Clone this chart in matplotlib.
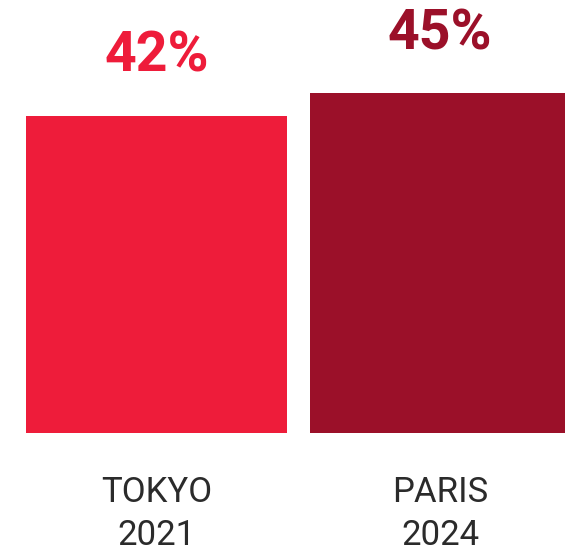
import matplotlib
matplotlib.use("Agg")
import matplotlib.pyplot as plt

# Données
villes = ["TOKYO", "PARIS"]
annees = ["2021", "2024"]
valeurs = [42, 45]
couleurs = ["#EE1C3A", "#9B1029"]

fig = plt.figure(figsize=(5.65, 5.47), dpi=100)
ax = fig.add_axes([0, 0, 1, 1])

x = list(range(len(valeurs)))
ax.bar(x, valeurs, width=0.92, color=couleurs)

# échelle : ~7.55 px par point de pourcentage
ax.set_xlim(-0.552, 1.441)
ax.set_ylim(-15.1, 57.35)
ax.axis("off")

for i, v in enumerate(valeurs):
    # pourcentage au-dessus de la barre
    ax.annotate(f"{v}%", xy=(x[i], v), xytext=(0, 44), textcoords="offset pixels",
                ha="center", va="baseline", fontsize=40, fontweight="bold",
                family=["Roboto", "DejaVu Sans"], color=couleurs[i])
    # ville + année sous la barre
    ax.annotate(villes[i], xy=(x[i], 0), xytext=(0, -69), textcoords="offset pixels",
                ha="center", va="baseline", fontsize=25, fontweight="normal",
                family=["Roboto", "DejaVu Sans"], color="#2b2b2b",
                annotation_clip=False)
    ax.annotate(annees[i], xy=(x[i], 0), xytext=(0, -112), textcoords="offset pixels",
                ha="center", va="baseline", fontsize=25, fontweight="normal",
                family=["Roboto", "DejaVu Sans"], color="#2b2b2b",
                annotation_clip=False)

fig.savefig("out.png", dpi=100)
